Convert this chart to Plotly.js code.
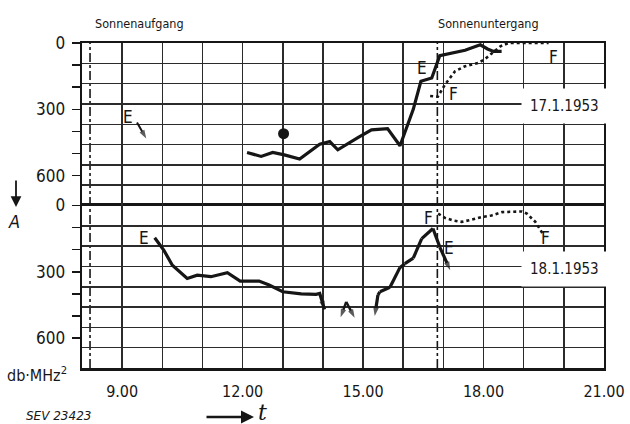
<!DOCTYPE html>
<html>
<head>
<meta charset="utf-8">
<script src="https://cdn.plot.ly/plotly-3.0.1.min.js"></script>
<style>html,body{margin:0;padding:0;background:#fff;}#chart{width:630px;height:424px;}</style>
</head>
<body>
<div id="chart"></div>
<script>
// ---- data (hours as decimal time, values in db·MHz², 0 at top) ----
const hourTicks = [8,9,10,11,12,13,14,15,16,17,18,19,20,21];
const hourLabels = ['', '9.00', '', '', '12.00', '', '', '15.00', '', '', '18.00', '', '', '21.00'];
const valueTicks = [0,100,200,300,400,500,600];
const valueLabels = ['0','','','300','','','600'];
const sunTimes = [8.2, 16.85];           // Sonnenaufgang, Sonnenuntergang

// 17.1.1953 (upper panel)
const d17E_t = [12.11,12.46,12.75,13.04,13.42,13.92,14.17,14.37,14.87,15.21,15.61,15.92,16.25,16.44,16.71,16.87,16.91,17.54,17.92,18.10,18.25,18.45];
const d17E_v = [495,513,495,506,525,458,446,483,428,393,387,465,300,173,158,68,57,33,8,27,38,38];
const d17F_t = [16.67,16.86,17.04,17.14,17.29,17.54,17.87,18.04,18.21,18.42,18.62,19.62];
const d17F_v = [240,243,188,165,128,105,90,72,45,15,0,0];
const d17Dot_t = [13.02];
const d17Dot_v = [410];
const d17Earrow_t = [9.37, 9.60];
const d17Earrow_v = [360, 432];

// 18.1.1953 (lower panel)
const d18E1_t = [9.81,10.04,10.25,10.62,10.87,11.21,11.62,11.94,12.41,12.66,13.00,13.46,13.83,13.92,14.04];
const d18E1_v = [146,203,270,330,315,322,304,342,342,360,390,400,402,398,470];
const d18GapL_t = [14.58, 14.44];
const d18GapL_v = [436, 506];
const d18GapR_t = [14.58, 14.79];
const d18GapR_v = [436, 508];
const d18E2a_t = [15.37, 15.29];
const d18E2a_v = [405, 500];
const d18E2_t = [15.37,15.42,15.67,15.92,16.04,16.25,16.46,16.74,16.91,17.17];
const d18E2_v = [405,390,370,280,263,238,150,104,188,293];
const d18F_t = [16.87,17.04,17.25,17.46,17.71,17.96,18.20,18.46,18.75,18.96,19.08,19.29,19.50];
const d18F_v = [37,56,68,74,64,52,45,30,28,27,37,74,135];

const INK = '#161616';
const COND = '"DejaVu Sans Condensed", sans-serif';

function line(t, v, top, dotted) {
  return {x: t, y: v, xaxis: top ? 'x2' : 'x', yaxis: top ? 'y2' : 'y', mode: 'lines',
    line: {color: INK, width: dotted ? 2.6 : 3.2, dash: dotted ? 'dot' : 'solid', shape: 'linear'},
    hoverinfo: 'skip', showlegend: false};
}
function arrowLine(t, v, top, w) {
  const tr = line(t, v, top, false);
  tr.mode = 'lines+markers';
  if (w) tr.line.width = w;
  tr.marker = {symbol: 'arrow', angleref: 'previous', color: INK,
    size: t.map((_, i) => i === t.length - 1 ? 9 : 0), line: {width: 0}};
  return tr;
}

const traces = [
  line(d17E_t, d17E_v, true, false),
  line(d17F_t, d17F_v, true, true),
  {x: d17Dot_t, y: d17Dot_v, xaxis: 'x2', yaxis: 'y2', mode: 'markers',
   marker: {size: 11, color: INK}, hoverinfo: 'skip', showlegend: false},
  arrowLine(d17Earrow_t, d17Earrow_v, true, 2),
  arrowLine(d18E1_t, d18E1_v, false),
  arrowLine(d18GapL_t, d18GapL_v, false, 2.4),
  arrowLine(d18GapR_t, d18GapR_v, false, 2.4),
  arrowLine(d18E2a_t, d18E2a_v, false),
  arrowLine(d18E2_t, d18E2_v, false),
  line(d18F_t, d18F_v, false, true),
  // carriers for the 8-division horizontal grid
  {x: [8], y: [0], xaxis: 'x', yaxis: 'y3', mode: 'none', hoverinfo: 'skip', showlegend: false},
  {x: [8], y: [0], xaxis: 'x2', yaxis: 'y4', mode: 'none', hoverinfo: 'skip', showlegend: false}
];

const gridC = '#2b2b2b';
const xBase = {range: [8, 21], tickmode: 'array', tickvals: hourTicks, showgrid: true,
  gridcolor: gridC, gridwidth: 1.5, zeroline: false, showline: true,
  linecolor: INK, ticks: '', fixedrange: true};
const yBase = {range: [735, 0], tickmode: 'array', tickvals: valueTicks, ticktext: valueLabels,
  ticks: 'outside', ticklen: 8, tickwidth: 1.5, tickcolor: INK, showgrid: false, zeroline: false,
  showline: true, mirror: true, linecolor: INK, linewidth: 2.4, ticklabelstandoff: 3,
  tickfont: {family: COND, size: 17, color: INK}, fixedrange: true};
const gBase = {range: [0, 8], dtick: 1, tick0: 0, showgrid: true, gridcolor: gridC, gridwidth: 1.5,
  zeroline: false, showticklabels: false, ticks: '', showline: false, fixedrange: true};

function lab(text, x, y, top, size) {
  return {text: text, x: x, y: y, xref: top ? 'x2' : 'x', yref: top ? 'y2' : 'y', showarrow: false,
    xanchor: 'center', yanchor: 'middle', font: {family: COND, size: size || 17, color: INK}};
}
function ptxt(text, px, py, size, family) {
  return {text: text, xref: 'paper', yref: 'paper', x: (px - 82) / 522, y: (368 - py) / 325,
    xanchor: 'center', yanchor: 'middle', showarrow: false,
    font: {family: family || COND, size: size, color: INK}};
}

const annotations = [
  ptxt('Sonnenaufgang', 139, 23, 12.5),
  ptxt('Sonnenuntergang', 488, 24, 12.5),
  lab('E', 9.15, 333, true), lab('E', 16.47, 112, true), lab('F', 17.24, 230, true), lab('F', 19.73, 62, true),
  lab('E', 9.55, 145, false), lab('F', 16.62, 57, false), lab('E', 17.14, 194, false), lab('F', 19.55, 149, false),
  Object.assign(lab('17.1.1953', 20.02, 284, true, 15), {bgcolor: '#fff', borderpad: 8}),
  Object.assign(lab('18.1.1953', 20.02, 285, false, 15), {bgcolor: '#fff', borderpad: 8}),
  // y-axis label
  {text: '', xref: 'paper', yref: 'paper', x: (16 - 82) / 522, y: (368 - 207) / 325, ax: 0, ay: -28,
   showarrow: true, arrowhead: 2, arrowsize: 1.2, arrowwidth: 1.8, arrowcolor: INK},
  ptxt('<i>A</i>', 14, 221, 18),
  ptxt('db·MHz<sup>2</sup>', 37, 374, 16),
  // x-axis label
  {text: '', xref: 'paper', yref: 'paper', x: (254 - 82) / 522, y: (368 - 417) / 325, ax: -49, ay: 0,
   showarrow: true, arrowhead: 2, arrowsize: 1, arrowwidth: 2.6, arrowcolor: INK},
  ptxt('<i>t</i>', 262, 412, 22, '"DejaVu Serif", serif'),
  ptxt('<i>SEV 23423</i>', 58, 416, 12, '"DejaVu Sans", sans-serif')
];

const shapes = sunTimes.map(t => ({type: 'line', xref: 'x', yref: 'paper', x0: t, x1: t, y0: 0, y1: 1,
  line: {color: INK, width: 1.6, dash: 'dashdot'}, layer: 'below'}));

const layout = {
  width: 630, height: 424,
  margin: {l: 82, r: 26, t: 43, b: 56, pad: 0},
  paper_bgcolor: '#fff', plot_bgcolor: '#fff',
  showlegend: false,
  xaxis: Object.assign({}, xBase, {anchor: 'y', mirror: true, linewidth: 2.8, ticktext: hourLabels,
    ticklabelstandoff: 7, tickfont: {family: COND, size: 16, color: INK}}),
  xaxis2: Object.assign({}, xBase, {anchor: 'y2', side: 'top', mirror: false, linewidth: 2.4,
    matches: 'x', showticklabels: false}),
  yaxis: Object.assign({}, yBase, {domain: [0, 0.5], anchor: 'x'}),
  yaxis2: Object.assign({}, yBase, {domain: [0.5, 1], anchor: 'x2'}),
  yaxis3: Object.assign({}, gBase, {overlaying: 'y', anchor: 'x'}),
  yaxis4: Object.assign({}, gBase, {overlaying: 'y2', anchor: 'x2'}),
  annotations: annotations,
  shapes: shapes
};

Plotly.newPlot('chart', traces, layout, {displayModeBar: false, staticPlot: true});
</script>
</body>
</html>
